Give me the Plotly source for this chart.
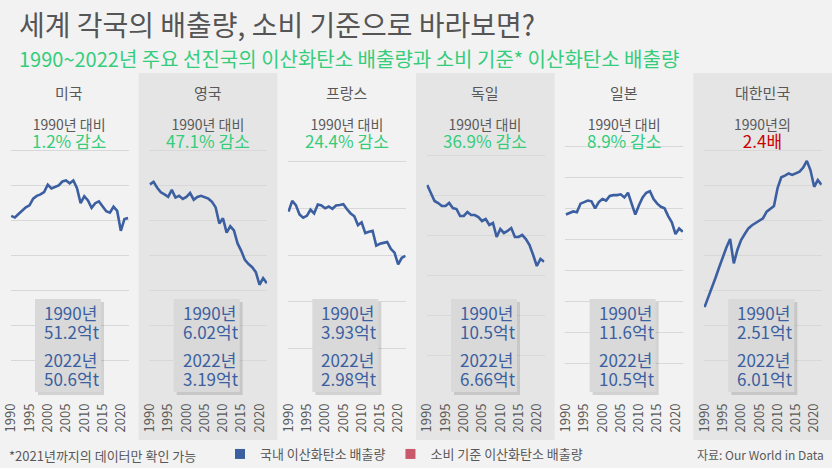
import plotly.graph_objects as go

# ---------------- data ----------------
years = list(range(1990, 2023))
countries = ["미국", "영국", "프랑스", "독일", "일본", "대한민국"]

# domestic CO2 emissions (억t)
usa = [51.2, 50.7, 51.7, 52.8, 53.6, 54.2, 56.1, 56.9, 57.3, 58.0, 60.1, 59.0, 59.5, 59.9,
       61.0, 61.3, 60.5, 61.3, 59.1, 54.8, 56.8, 55.6, 53.5, 54.8, 55.3, 53.8, 52.5, 52.1,
       53.8, 52.6, 46.9, 50.3, 50.6]
uk = [6.02, 6.09, 5.92, 5.79, 5.73, 5.66, 5.86, 5.64, 5.69, 5.60, 5.66, 5.77, 5.58, 5.66,
      5.69, 5.66, 5.61, 5.52, 5.36, 4.90, 5.05, 4.64, 4.82, 4.70, 4.33, 4.12, 3.86, 3.74,
      3.65, 3.51, 3.15, 3.34, 3.19]
france = [3.93, 4.16, 4.07, 3.87, 3.80, 3.84, 3.97, 3.89, 4.08, 4.06, 4.00, 4.04, 3.99, 4.06,
          4.07, 4.09, 3.98, 3.89, 3.83, 3.64, 3.70, 3.47, 3.50, 3.52, 3.20, 3.24, 3.26, 3.28,
          3.13, 3.05, 2.80, 2.94, 2.98]
germany = [10.5, 10.1, 9.7, 9.6, 9.45, 9.45, 9.6, 9.35, 9.3, 8.95, 8.95, 9.15, 9.0, 9.0,
           8.9, 8.7, 8.8, 8.5, 8.6, 7.9, 8.3, 8.1, 8.2, 8.35, 7.9, 7.9, 8.0, 7.8,
           7.5, 7.0, 6.45, 6.8, 6.66]
japan = [11.6, 11.7, 11.8, 11.75, 12.3, 12.4, 12.5, 12.45, 12.0, 12.4, 12.6, 12.5, 12.8, 12.85,
         12.85, 12.9, 12.7, 13.0, 12.3, 11.6, 12.2, 12.7, 13.0, 13.1, 12.6, 12.3, 12.1, 12.0,
         11.5, 11.1, 10.35, 10.7, 10.5]
korea = [2.51, 2.78, 3.05, 3.35, 3.65, 3.95, 4.22, 4.46, 3.76, 4.15, 4.43, 4.60, 4.76, 4.85,
         4.92, 4.98, 5.05, 5.24, 5.33, 5.40, 5.92, 6.22, 6.27, 6.33, 6.29, 6.33, 6.38, 6.50,
         6.69, 6.42, 5.95, 6.14, 6.01]
series = [usa, uk, france, germany, japan, korea]

y_max = [80, 8, 6, 14, 18, 8]
y_step = [10, 1, 1, 2, 2, 1]

change_head = ["1990년 대비"] * 5 + ["1990년의"]
change_val = ["1.2% 감소", "47.1% 감소", "24.4% 감소", "36.9% 감소", "8.9% 감소", "2.4배"]
val_1990 = ["51.2억t", "6.02억t", "3.93억t", "10.5억t", "11.6억t", "2.51억t"]
val_2022 = ["50.6억t", "3.19억t", "2.98억t", "6.66억t", "10.5억t", "6.01억t"]
x_ticks = [1990, 1995, 2000, 2005, 2010, 2015, 2020]

legend_names = ["국내 이산화탄소 배출량", "소비 기준 이산화탄소 배출량"]

# ---------------- style ----------------
W, H = 832, 468
PW = W / 6
FONT = "Noto Sans CJK KR"
BLUE = "#3b5fa0"
RED = "#c9586a"
GREEN = "#35cd7b"
GREY_T = "#595959"
BG = "#f2f2f2"
BG_DARK = "#e5e5e5"
GRID = "#d8d8d8"


def px(x):
    return x / W


def py(y):
    return 1 - y / H


fig = go.Figure()
shapes = []
annotations = []
layout_axes = {}

for i, (name, vals) in enumerate(zip(countries, series)):
    L = i * PW
    k = "" if i == 0 else str(i + 1)
    fig.add_trace(go.Scatter(
        x=years, y=vals, mode="lines",
        line=dict(color=BLUE, width=2.6),
        xaxis="x" + k, yaxis="y" + k, showlegend=False, hoverinfo="skip"))

    layout_axes["xaxis" + k] = dict(
        domain=[px(L + 10.5), px(L + 128.5)], anchor="y" + k,
        range=[1989.8, 2022.1], tickmode="array", tickvals=x_ticks,
        tickangle=-90, tickfont=dict(family=FONT, size=13, color=GREY_T),
        showgrid=False, zeroline=False, showline=False, ticks="",
        ticklabelstandoff=5, fixedrange=True, automargin=False)
    layout_axes["yaxis" + k] = dict(
        domain=[py(395), py(115)], anchor="x" + k,
        range=[0, y_max[i]], tickmode="array",
        tickvals=list(range(0, y_max[i] + 1, y_step[i])),
        showticklabels=False, showgrid=True, gridcolor=GRID, gridwidth=1,
        zeroline=False, showline=False, ticks="", fixedrange=True, automargin=False)

    if i % 2 == 1:
        shapes.append(dict(type="rect", xref="paper", yref="paper",
                           x0=px(L), x1=px(L + PW), y0=py(440), y1=py(73),
                           fillcolor=BG_DARK, line=dict(width=0), layer="below"))

    cx = px(L + PW / 2)
    val_color = "#cc0000" if i == 5 else GREEN
    annotations += [
        dict(text=name, x=cx, y=py(93), xref="paper", yref="paper", showarrow=False,
             font=dict(family=FONT, size=15, color=GREY_T), xanchor="center", yanchor="middle"),
        dict(text=(change_head[i] + "<br><span style='font-size:17px;color:" + val_color + "'>"
                   + change_val[i] + "</span>"),
             x=cx, y=py(133), xref="paper", yref="paper", showarrow=False,
             font=dict(family=FONT, size=14, color=GREY_T), xanchor="center", yanchor="middle"),
    ]

    # value box with shadow
    shapes.append(dict(type="rect", xref="paper", yref="paper",
                       x0=px(L + 38), x1=px(L + 104), y0=py(395), y1=py(302),
                       fillcolor="rgba(0,0,0,0.13)", line=dict(width=0), layer="above"))
    shapes.append(dict(type="rect", xref="paper", yref="paper",
                       x0=px(L + 35), x1=px(L + 101), y0=py(392), y1=py(299),
                       fillcolor="#d9d9d9", line=dict(width=0), layer="above"))
    bx = px(L + 42)
    for year_lbl, val, yy in [("1990년", val_1990[i], 321.5), ("2022년", val_2022[i], 368.5)]:
        annotations.append(dict(
            text="<span style='font-size:17px'>" + year_lbl + "<br>" + val + "</span>",
            x=bx, y=py(yy), xref="paper", yref="paper", align="left",
            showarrow=False, xanchor="left", yanchor="middle",
            font=dict(family=FONT, size=14.5, color=BLUE)))

# legend-only entries
fig.add_trace(go.Scatter(x=[None], y=[None], mode="markers", name=legend_names[0],
                         marker=dict(symbol="square", size=10, color=BLUE), showlegend=True))
fig.add_trace(go.Scatter(x=[None], y=[None], mode="markers", name=legend_names[1],
                         marker=dict(symbol="square", size=10, color=RED), showlegend=True))

annotations += [
    dict(text="세계 각국의 배출량, 소비 기준으로 바라보면?", x=px(17), y=py(24),
         xref="paper", yref="paper", showarrow=False, xanchor="left", yanchor="middle",
         font=dict(family=FONT, size=28, color="#555555")),
    dict(text="1990~2022년 주요 선진국의 이산화탄소 배출량과 소비 기준* 이산화탄소 배출량",
         x=px(17), y=py(58), xref="paper", yref="paper", showarrow=False,
         xanchor="left", yanchor="middle", font=dict(family=FONT, size=20, color=GREEN)),
    dict(text="*2021년까지의 데이터만 확인 가능", x=px(7), y=py(455), xref="paper", yref="paper",
         showarrow=False, xanchor="left", yanchor="middle",
         font=dict(family=FONT, size=13, color=GREY_T)),
    dict(text="자료: Our World in Data", x=px(826), y=py(454), xref="paper", yref="paper",
         showarrow=False, xanchor="right", yanchor="middle",
         font=dict(family=FONT, size=12, color=GREY_T)),
]

fig.update_layout(
    width=W, height=H, margin=dict(l=0, r=0, t=0, b=0, pad=0, autoexpand=False),
    paper_bgcolor=BG, plot_bgcolor="rgba(0,0,0,0)",
    shapes=shapes, annotations=annotations,
    legend=dict(orientation="h", x=px(220), y=py(454), xanchor="left", yanchor="middle",
                font=dict(family=FONT, size=13, color=GREY_T), bgcolor="rgba(0,0,0,0)",
                itemwidth=30, tracegroupgap=0),
    font=dict(family=FONT),
    **layout_axes,
)

fig.write_html(
    "out.html",
    config={"displayModeBar": False, "responsive": False},
    post_script="document.body.style.margin='0';document.body.style.overflow='hidden';",
)
